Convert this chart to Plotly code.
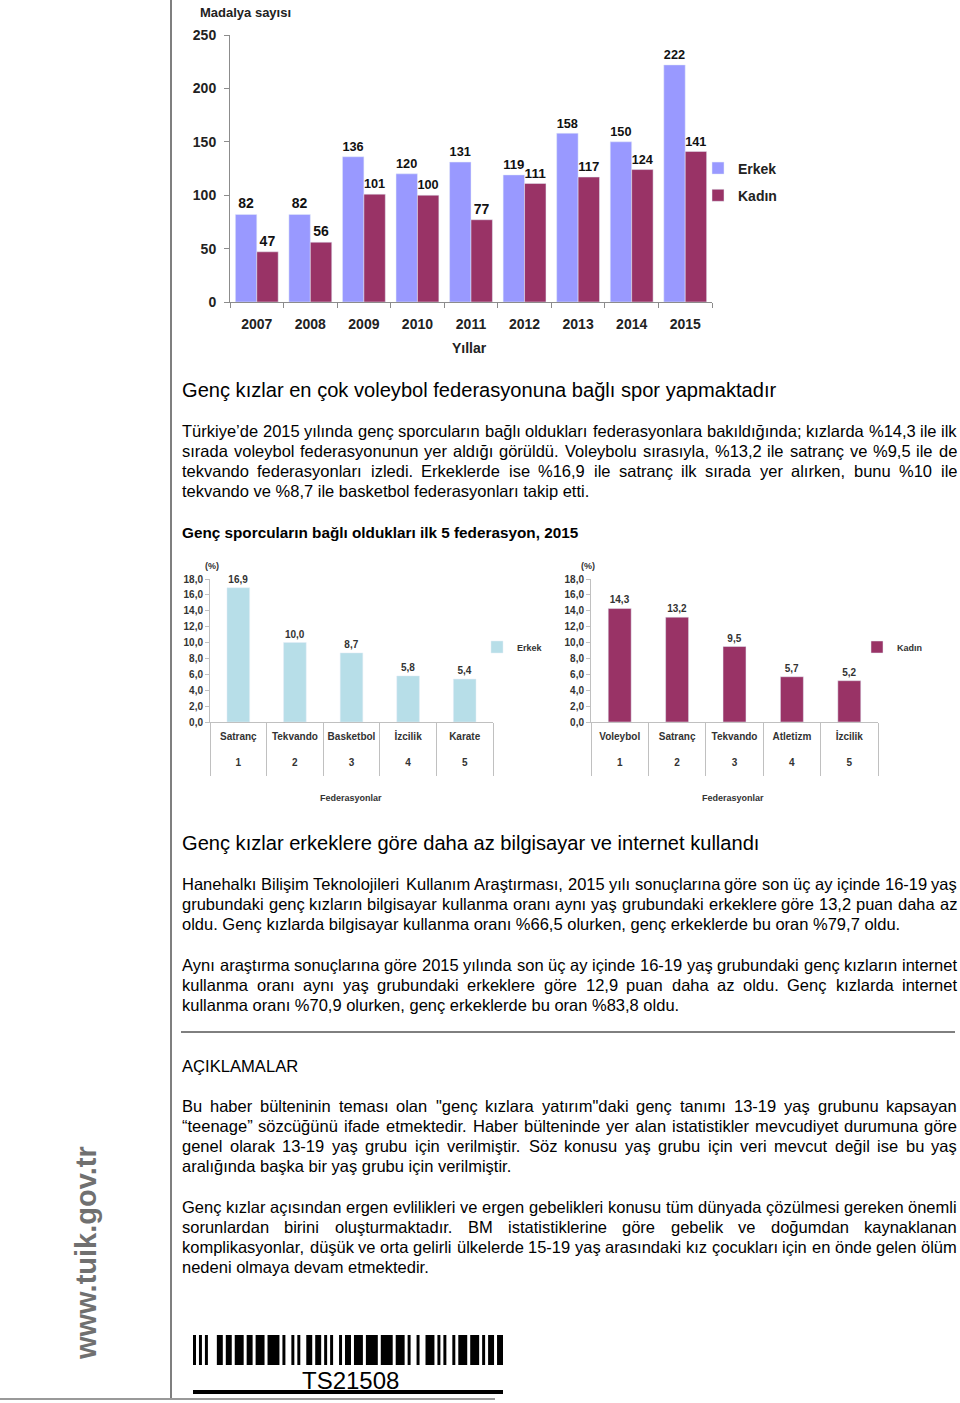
import plotly.graph_objects as go

W, H = 960, 1403

# ---------------- data ----------------
years = ["2007", "2008", "2009", "2010", "2011", "2012", "2013", "2014", "2015"]
erkek_medals = [82, 82, 136, 120, 131, 119, 158, 150, 222]
kadin_medals = [47, 56, 101, 100, 77, 111, 117, 124, 141]

ranks = ["1", "2", "3", "4", "5"]
erkek_fed_names = ["Satranç", "Tekvando", "Basketbol", "İzcilik", "Karate"]
erkek_fed_pct = [16.9, 10.0, 8.7, 5.8, 5.4]
kadin_fed_names = ["Voleybol", "Satranç", "Tekvando", "Atletizm", "İzcilik"]
kadin_fed_pct = [14.3, 13.2, 9.5, 5.7, 5.2]

barcode_pattern = ("1010100011011011101101110111101001010011011010100101101110"
                   "1111011110111010010011101010010111011101011011")
barcode_label = "TS21508"

heading1 = "Genç kızlar en çok voleybol federasyonuna bağlı spor yapmaktadır"
para1 = [
    "Türkiye’de 2015 yılında genç sporcuların bağlı oldukları federasyonlara bakıldığında; kızlarda %14,3 ile ilk",
    "sırada voleybol federasyonunun yer aldığı görüldü. Voleybolu sırasıyla, %13,2 ile satranç ve %9,5 ile de",
    "tekvando federasyonları izledi. Erkeklerde ise %16,9 ile satranç ilk sırada yer alırken, bunu %10 ile",
    "tekvando ve %8,7 ile basketbol federasyonları takip etti.",
]
chart_title2 = "Genç sporcuların bağlı oldukları ilk 5 federasyon, 2015"
heading2 = "Genç kızlar erkeklere göre daha az bilgisayar ve internet kullandı"
para2 = [
    "Hanehalkı Bilişim Teknolojileri Kullanım Araştırması, 2015 yılı sonuçlarına göre son üç ay içinde 16-19 yaş",
    "grubundaki genç kızların bilgisayar kullanma oranı aynı yaş grubundaki erkeklere göre 13,2 puan daha az",
    "oldu. Genç kızlarda bilgisayar kullanma oranı %66,5 olurken, genç erkeklerde bu oran %79,7 oldu.",
]
para3 = [
    "Aynı araştırma sonuçlarına göre 2015 yılında son üç ay içinde 16-19 yaş grubundaki genç kızların internet",
    "kullanma oranı aynı yaş grubundaki erkeklere göre 12,9 puan daha az oldu. Genç kızlarda internet",
    "kullanma oranı %70,9 olurken, genç erkeklerde bu oran %83,8 oldu.",
]
heading3 = "AÇIKLAMALAR"
para4 = [
    "Bu haber bülteninin teması olan \"genç kızlara yatırım\"daki genç tanımı 13-19 yaş grubunu kapsayan",
    "“teenage” sözcüğünü ifade etmektedir. Haber bülteninde yer alan istatistikler mevcudiyet durumuna göre",
    "genel olarak 13-19 yaş grubu için verilmiştir. Söz konusu yaş grubu için veri mevcut değil ise bu yaş",
    "aralığında başka bir yaş grubu için verilmiştir.",
]
para5 = [
    "Genç kızlar açısından ergen evlilikleri ve ergen gebelikleri konusu tüm dünyada çözülmesi gereken önemli",
    "sorunlardan birini oluşturmaktadır. BM istatistiklerine göre gebelik ve doğumdan kaynaklanan",
    "komplikasyonlar, düşük ve orta gelirli ülkelerde 15-19 yaş arasındaki kız çocukları için en önde gelen ölüm",
    "nedeni olmaya devam etmektedir.",
]

# page -> paper mapping (the captured page shows the plot 8px down and 1387px tall)
TOP_OFF, EFF_H = 8, 1387


def px(x):
    return x / W


def py(y):
    return 1 - (y - TOP_OFF) / EFF_H


CHART_FONT = "Arial, Liberation Sans, sans-serif"
TEXT_FONT = "Liberation Sans, Arial, sans-serif"

# Arial / Liberation Sans advance widths (1/1000 em) used to justify lines
ARIAL_W = {
    " ": 278, "!": 278, '"': 355, "#": 556, "$": 556, "%": 889, "&": 667, "'": 191,
    "(": 333, ")": 333, "*": 389, "+": 584, ",": 278, "-": 333, ".": 278, "/": 278,
    ":": 278, ";": 278, "?": 556,
    "A": 667, "B": 667, "C": 722, "D": 722, "E": 667, "F": 611, "G": 778, "H": 722,
    "I": 278, "J": 500, "K": 667, "L": 556, "M": 833, "N": 722, "O": 778, "P": 667,
    "Q": 778, "R": 722, "S": 667, "T": 611, "U": 722, "V": 667, "W": 944, "X": 667,
    "Y": 667, "Z": 611,
    "a": 556, "b": 556, "c": 500, "d": 556, "e": 556, "f": 278, "g": 556, "h": 556,
    "i": 222, "j": 222, "k": 500, "l": 222, "m": 833, "n": 556, "o": 556, "p": 556,
    "q": 556, "r": 333, "s": 500, "t": 278, "u": 556, "v": 500, "w": 722, "x": 500,
    "y": 500, "z": 500,
    "ç": 500, "ğ": 556, "ı": 278, "ş": 500, "ö": 556, "ü": 556,
    "Ç": 722, "Ğ": 778, "İ": 278, "Ş": 667, "Ö": 778, "Ü": 722,
    "’": 222, "‘": 222, "“": 333, "”": 333,
}


def text_w(s, size):
    return sum(ARIAL_W.get(ch, 556) for ch in s) / 1000.0 * size


C_ERKEK = "#9999FF"
C_KADIN = "#993366"
C_ERKEK2 = "#B7DEE8"
C_KADIN2 = "#993366"

fig = go.Figure()

# ---------------- chart 1 ----------------
fig.add_trace(go.Bar(
    x=years, y=erkek_medals, name="Erkek", marker_color=C_ERKEK,
    text=erkek_medals, textposition="outside", cliponaxis=False,
    textfont=dict(family=CHART_FONT, size=14, color="#111", weight="bold"),
    xaxis="x", yaxis="y", legend="legend", legendgroup="e1",
))
fig.add_trace(go.Bar(
    x=years, y=kadin_medals, name="Kadın", marker_color=C_KADIN,
    text=kadin_medals, textposition="outside", cliponaxis=False,
    textfont=dict(family=CHART_FONT, size=14, color="#111", weight="bold"),
    xaxis="x", yaxis="y", legend="legend", legendgroup="k1",
))

# ---------------- chart 2 ----------------
fig.add_trace(go.Bar(
    x=erkek_fed_names, y=erkek_fed_pct, name="Erkek", width=0.4,
    marker_color=C_ERKEK2, texttemplate="%{y:.1f}", textposition="outside",
    cliponaxis=False,
    textfont=dict(family=CHART_FONT, size=10, color="#333", weight="bold"),
    xaxis="x2", yaxis="y2", legend="legend2",
))
# ---------------- chart 3 ----------------
fig.add_trace(go.Bar(
    x=kadin_fed_names, y=kadin_fed_pct, name="Kadın", width=0.4,
    marker_color=C_KADIN2, texttemplate="%{y:.1f}", textposition="outside",
    cliponaxis=False,
    textfont=dict(family=CHART_FONT, size=10, color="#333", weight="bold"),
    xaxis="x3", yaxis="y3", legend="legend3",
))

axis_gray = "#8c8c8c"
small_gray = "#c0c0c0"


def fed_xaxis(domain, anchor, names):
    return dict(domain=domain, anchor=anchor, type="category",
                showline=True, linecolor=small_gray,
                ticks="outside", tickson="boundaries", ticklen=53,
                tickcolor=small_gray, tickwidth=1,
                tickvals=names,
                ticktext=[f"{n}<br><br>{r}" for n, r in zip(names, ranks)],
                tickangle=0, ticklabelstandoff=5,
                tickfont=dict(size=10, weight="bold", color="#333"),
                showgrid=False, range=[-0.5, len(names) - 0.5])


def fed_yaxis(domain, anchor):
    return dict(domain=domain, anchor=anchor, range=[0, 18], dtick=2,
                tickformat=".1f", showline=True, linecolor=small_gray,
                ticks="outside", ticklen=4, tickcolor=small_gray, showgrid=False,
                zeroline=False, tickfont=dict(size=10, weight="bold", color="#333"))


layout = dict(
    width=W, height=H, margin=dict(l=0, r=0, t=0, b=0),
    paper_bgcolor="white", plot_bgcolor="white",
    barmode="group", bargap=0.2, bargroupgap=0,
    separators=",.",
    font=dict(family=CHART_FONT, color="#111"),
    xaxis=dict(domain=[px(230), px(712)], anchor="y", showline=True, linecolor=axis_gray,
               ticks="outside", tickson="boundaries", ticklen=5, tickcolor=axis_gray,
               ticklabelstandoff=9,
               tickfont=dict(size=14, weight="bold", color="#222"), showgrid=False),
    yaxis=dict(domain=[py(302), py(35)], anchor="x", range=[0, 250], dtick=50,
               showline=True, linecolor=axis_gray, ticks="outside", ticklen=5,
               tickcolor=axis_gray, showgrid=False, zeroline=False,
               ticklabelstandoff=5,
               tickfont=dict(size=14, weight="bold", color="#222")),
    xaxis2=fed_xaxis([px(210), px(493)], "y2", erkek_fed_names),
    yaxis2=fed_yaxis([py(722), py(579)], "x2"),
    xaxis3=fed_xaxis([px(591), px(878)], "y3", kadin_fed_names),
    yaxis3=fed_yaxis([py(722), py(579)], "x3"),
    legend=dict(x=px(698), y=py(182), xanchor="left", yanchor="middle",
                tracegroupgap=6, bgcolor="rgba(0,0,0,0)",
                font=dict(size=14, weight="bold", color="#222")),
    legend2=dict(x=px(477), y=py(647), xanchor="left", yanchor="middle",
                 bgcolor="rgba(0,0,0,0)", font=dict(size=9, weight="bold", color="#333")),
    legend3=dict(x=px(857), y=py(647), xanchor="left", yanchor="middle",
                 bgcolor="rgba(0,0,0,0)", font=dict(size=9, weight="bold", color="#333")),
)
fig.update_layout(**layout)

ann = []


def add_text(text, x, y, size, family=TEXT_FONT, weight="normal", color="#000",
             xanchor="left", textangle=0):
    ann.append(dict(text=text, x=px(x), y=py(y), xref="paper", yref="paper",
                    xanchor=xanchor, yanchor="middle", showarrow=False,
                    textangle=textangle, borderpad=0,
                    font=dict(family=family, size=size, color=color, weight=weight)))


LEFT, RIGHT = 181, 956
PARA_SIZE = 16.5


def paragraph(lines, y0, size=PARA_SIZE, lead=20):
    for k, line in enumerate(lines):
        y = y0 + lead * k
        last = k == len(lines) - 1
        if last:
            add_text(line, LEFT, y, size)
            continue
        words = line.split(" ")
        widths = [text_w(w, size) for w in words]
        gap = (RIGHT - LEFT - sum(widths)) / (len(words) - 1)
        gap = max(gap, 0.2 * size)
        x = LEFT
        for w, wd in zip(words, widths):
            add_text(w, x, y, size)
            x += wd + gap


# chart labels
add_text("Madalya sayısı", 199, 13, 13, family=CHART_FONT, weight="bold", color="#222")
add_text("Yıllar", 469, 348, 14, family=CHART_FONT, weight="bold", color="#222", xanchor="center")
add_text("(%)", 212, 566, 9, family=CHART_FONT, weight="bold", color="#333", xanchor="center")
add_text("(%)", 588, 566, 9, family=CHART_FONT, weight="bold", color="#333", xanchor="center")
add_text("Federasyonlar", 351, 798, 9, family=CHART_FONT, weight="bold", color="#333", xanchor="center")
add_text("Federasyonlar", 733, 798, 9, family=CHART_FONT, weight="bold", color="#333", xanchor="center")

# body text
add_text(heading1, LEFT, 390, 20.1)
paragraph(para1, 431)
add_text(chart_title2, LEFT, 532, 15.3, weight="bold")
add_text(heading2, LEFT, 843, 20.1)
paragraph(para2, 884)
paragraph(para3, 965)
add_text(heading3, LEFT, 1066, 16.6)
paragraph(para4, 1106)
paragraph(para5, 1207)

# side logo text
add_text("www.tuik.gov.tr", 86, 1253, 29, family=CHART_FONT, weight="bold",
         color="#707070", xanchor="center", textangle=-90)

# barcode text
add_text(barcode_label, 350, 1380, 24, family=CHART_FONT, color="#000", xanchor="center")

shapes = []


def line(x0, y0, x1, y1, color, width):
    shapes.append(dict(type="line", xref="paper", yref="paper",
                       x0=px(x0), y0=py(y0), x1=px(x1), y1=py(y1),
                       line=dict(color=color, width=width)))


line(171, 0, 171, 1398, "#555", 1.5)
line(0, 1399, 495, 1399, "#999", 2)
line(181, 1032, 955, 1032, "#000", 1)
line(193, 1392, 503, 1392, "#000", 4)

# barcode bars from the pattern
bx0, bx1 = 193, 503
mod = (bx1 - bx0) / len(barcode_pattern)
i = 0
while i < len(barcode_pattern):
    if barcode_pattern[i] == "1":
        j = i
        while j < len(barcode_pattern) and barcode_pattern[j] == "1":
            j += 1
        shapes.append(dict(type="rect", xref="paper", yref="paper",
                           x0=px(bx0 + i * mod), x1=px(bx0 + j * mod),
                           y0=py(1365), y1=py(1335), line=dict(width=0),
                           fillcolor="#000"))
        i = j
    else:
        i += 1

fig.update_layout(annotations=ann, shapes=shapes)
fig.write_html("out.html")
